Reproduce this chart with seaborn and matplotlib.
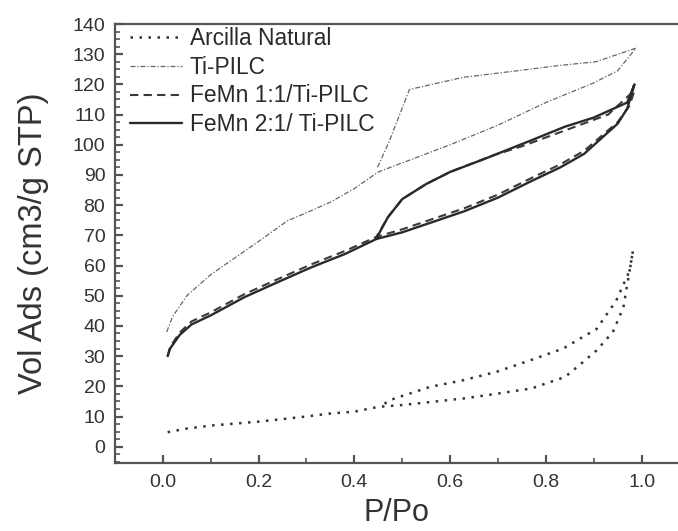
import matplotlib
matplotlib.use("Agg")
import matplotlib.pyplot as plt
from matplotlib.ticker import MultipleLocator
import seaborn as sns
import pandas as pd

# ---- data ----
series_names = ["Arcilla Natural", "Ti-PILC", "FeMn 1:1/Ti-PILC", "FeMn 2:1/ Ti-PILC"]

arcilla_p = [0.01, 0.05, 0.1, 0.2, 0.3, 0.35, 0.4, 0.45, 0.5, 0.63, 0.7, 0.77, 0.84, 0.87, 0.906, 0.94, 0.962, 0.982,
             0.975, 0.947, 0.906, 0.836, 0.767, 0.697, 0.627, 0.558, 0.5, 0.474, 0.455]
arcilla_v = [4.8, 6.0, 7.0, 8.3, 10.0, 11.0, 11.6, 13.2, 13.8, 16.0, 17.6, 19.3, 23.1, 27.0, 31.9, 38.0, 46.2, 65.0,
             58.3, 48.4, 39.0, 32.5, 28.6, 24.8, 22.0, 19.8, 16.8, 15.4, 13.4]

tipilc_p = [0.008, 0.02, 0.05, 0.1, 0.15, 0.2, 0.26, 0.3, 0.35, 0.4, 0.45, 0.5, 0.55, 0.6, 0.7, 0.8, 0.9, 0.95, 0.988,
            0.905, 0.83, 0.765, 0.626, 0.515, 0.473, 0.448]
tipilc_v = [38.0, 43.0, 50.0, 57.0, 62.5, 68.0, 74.8, 77.5, 81.0, 85.5, 91.0, 94.0, 97.0, 100.0, 106.5, 114.0, 120.5, 124.5, 132.0,
            127.5, 126.3, 125.0, 122.3, 118.3, 101.2, 92.4]

femn11_p = [0.01, 0.015, 0.035, 0.06, 0.1, 0.17, 0.24, 0.31, 0.38, 0.446, 0.5, 0.63, 0.7, 0.77, 0.83, 0.88, 0.95, 0.975, 0.985,
            0.93, 0.87, 0.81, 0.75, 0.69, 0.6, 0.55, 0.5, 0.47, 0.446]
femn11_v = [30.0, 33.0, 37.8, 41.5, 44.5, 50.5, 55.5, 60.4, 64.8, 69.5, 72.0, 79.0, 83.5, 89.0, 93.5, 98.0, 107.5, 113.0, 118.0,
            110.0, 106.5, 103.0, 99.5, 96.5, 91.0, 87.0, 82.0, 76.0, 69.5]

femn21_p = [0.01, 0.015, 0.035, 0.06, 0.1, 0.17, 0.24, 0.31, 0.38, 0.446, 0.5, 0.63, 0.7, 0.77, 0.83, 0.88, 0.95, 0.97, 0.985,
            0.97, 0.9, 0.84, 0.77, 0.67, 0.6, 0.55, 0.5, 0.47, 0.446]
femn21_v = [30.0, 32.5, 37.0, 40.5, 43.5, 49.5, 54.5, 59.4, 63.8, 68.8, 71.0, 78.0, 82.5, 88.0, 92.5, 97.0, 107.0, 112.0, 120.0,
            114.0, 109.0, 106.0, 101.5, 95.2, 91.0, 87.0, 82.0, 76.0, 69.0]

x_ticks = [0.0, 0.2, 0.4, 0.6, 0.8, 1.0]
y_ticks = list(range(0, 141, 10))

# ---- styles ----
styles = {
    "Arcilla Natural": dict(color="#333333", lw=1.8, ls=(0, (1, 2.6))),
    "Ti-PILC": dict(color="#666666", lw=0.9, ls=(0, (4, 1.5, 1, 1.5))),
    "FeMn 1:1/Ti-PILC": dict(color="#3a3a3a", lw=1.5, ls=(0, (4, 2.5))),
    "FeMn 2:1/ Ti-PILC": dict(color="#2a2a2a", lw=1.7, ls="-"),
}
data = {
    "Arcilla Natural": (arcilla_p, arcilla_v),
    "Ti-PILC": (tipilc_p, tipilc_v),
    "FeMn 1:1/Ti-PILC": (femn11_p, femn11_v),
    "FeMn 2:1/ Ti-PILC": (femn21_p, femn21_v),
}

sns.set_style("ticks")
plt.rcParams["font.family"] = ["Liberation Sans", "DejaVu Sans"]

fig = plt.figure(figsize=(6.78, 5.31), dpi=100)
ax = fig.add_axes([115 / 678, 1 - 462.7 / 531, 1 - 115 / 678, (462.7 - 24) / 531])

for name in series_names:
    p, v = data[name]
    df = pd.DataFrame({"P/Po": p, "V": v})
    st = styles[name]
    sns.lineplot(data=df, x="P/Po", y="V", sort=False, estimator=None, ax=ax,
                 color=st["color"], linewidth=st["lw"], linestyle=st["ls"], label=name)

ax.set_xlim(-0.1, 1.076)
ax.set_ylim(-5.3, 139.5)
ax.set_xticks(x_ticks)
ax.set_xticklabels([f"{t:.1f}" for t in x_ticks])
ax.set_yticks(y_ticks)
ax.xaxis.set_minor_locator(MultipleLocator(0.1))
ax.yaxis.set_minor_locator(MultipleLocator(2.5))

for s in ["left", "top", "bottom"]:
    ax.spines[s].set_visible(True)
    ax.spines[s].set_color("#555555")
    ax.spines[s].set_linewidth(1.6)
ax.spines["right"].set_visible(False)

ax.tick_params(axis="both", which="major", direction="in", length=6, width=1.6,
               color="#555555", labelsize=14, labelcolor="#333333",
               left=True, bottom=True, right=False, top=False)
ax.tick_params(axis="x", which="major", pad=8)
ax.tick_params(axis="y", which="major", pad=7)
ax.tick_params(axis="both", which="minor", direction="in", length=3.5, width=1.2, color="#555555",
               left=True, bottom=True, right=False, top=False)

ax.set_xlabel("P/Po", fontsize=22, color="#333333", labelpad=5)
ax.set_ylabel("Vol Ads (cm3/g STP)", fontsize=23.5, color="#333333", labelpad=17)

leg = ax.legend(loc="upper left", bbox_to_anchor=(15 / 563, 0.994), frameon=False,
                fontsize=16.4, handlelength=2.28, handletextpad=0.35, labelspacing=0.26,
                borderaxespad=0, borderpad=0)
for t in leg.get_texts():
    t.set_color("#2a2a2a")

fig.savefig("out.png", dpi=100)
